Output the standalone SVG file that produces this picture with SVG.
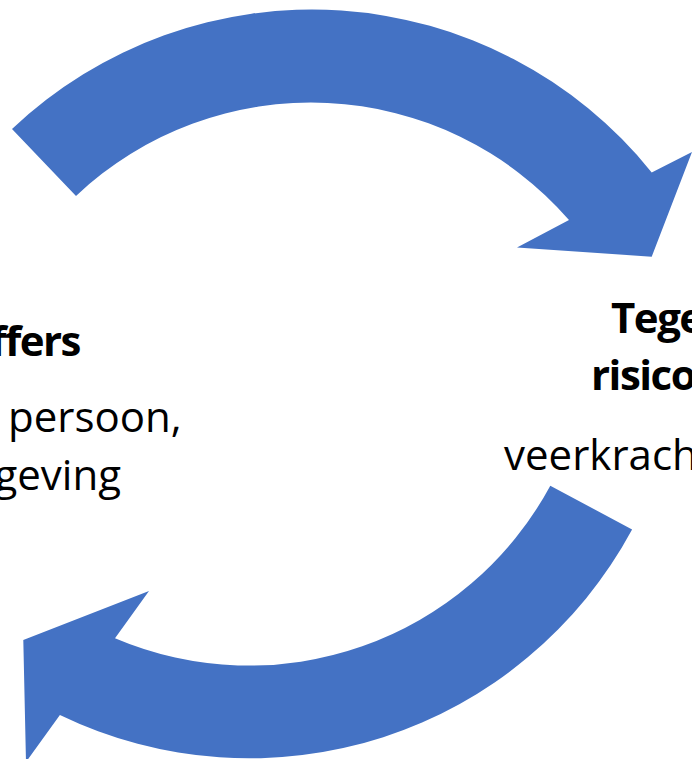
<svg xmlns="http://www.w3.org/2000/svg" width="692" height="759" viewBox="0 0 692 759">
  <style>
    .arrow { fill: #4472C4; stroke: none; }
    .t { font-family: "Open Sans", "Noto Sans", sans-serif; font-size: 42px; fill: #000000; }
    .b { font-weight: bold; letter-spacing: -1.5px; }
  </style>
  <rect x="0" y="0" width="692" height="759" fill="#FFFFFF"/>
  <g id="connectors">
    <path id="arrow-top" class="arrow" d="M 12,129 A 436 436 0 0 1 651.7,172.4 L 692,152 L 651.7,256.7 L 517,247.5 L 569,220 A 342 342 0 0 0 76,196 Z"/>
    <path id="arrow-bottom" class="arrow" d="M 550.3,485.7 L 632.1,529.5 A 435 435 0 0 1 59.9,715.1 L 26,762 L 23.3,640 L 149,591 L 115,638.3 A 342.3 342.3 0 0 0 550.3,485.7 Z"/>
  </g>
  <g id="node-left">
    <text class="t b" x="80" y="356" text-anchor="end">ffers</text>
    <text class="t" x="8" y="431.5">persoon,</text>
    <text class="t" x="121" y="490" text-anchor="end">geving</text>
  </g>
  <g id="node-right">
    <text class="t b" x="611" y="332.5">Tege</text>
    <text class="t b" x="591" y="390">risico</text>
    <text class="t" x="504" y="470">veerkrach</text>
  </g>
</svg>
